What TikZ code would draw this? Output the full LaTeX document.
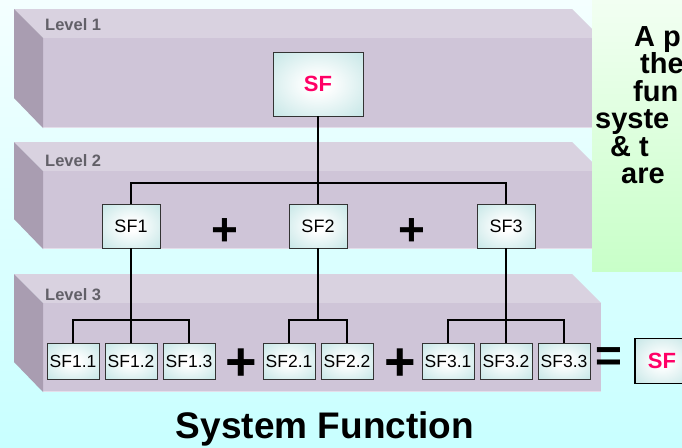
\documentclass[tikz,border=0pt]{standalone}
\usepackage{fontspec}
\setmainfont{Liberation Sans}

\definecolor{bgtop}{HTML}{F4FFFF}
\definecolor{bgbot}{HTML}{C8FFFF}
\definecolor{slabtop}{HTML}{D9D2E0}
\definecolor{slabfront}{HTML}{CFC5D8}
\definecolor{slabside}{HTML}{A99DB1}
\definecolor{slabedge}{HTML}{E4DEEA}
\definecolor{labelgray}{HTML}{626068}
\definecolor{boxteal}{HTML}{C5E6E6}
\definecolor{sfpink}{HTML}{FF0066}
\definecolor{notetop}{HTML}{F2FFF2}
\definecolor{notebot}{HTML}{C8FFC8}

% soft white glow in the middle of each function box
\pgfdeclareradialshading{boxglow}{\pgfpoint{0bp}{0bp}}{%
  color(0bp)=(white); color(6bp)=(white); color(36bp)=(boxteal); color(50bp)=(boxteal)}

% one level drawn as a flat 3-D slab: #1 = top of back edge, #2 = bottom of front face
\newcommand\levelslab[2]{%
  \fill[slabtop] (14,#1) -- (572,#1) -- (601,#1+29) -- (43,#1+29) -- cycle;
  \fill[slabfront] (43,#1+29) rectangle (601,#2);
  \fill[slabedge] (43,#2-1.5) rectangle (601,#2);
  \fill[slabside] (14,#1) -- (43,#1+29) -- (43,#2) -- (14,#2-30) -- cycle;
}

\tikzset{
  fnbox/.style={draw=black!80, line width=0.8pt, shade, shading=boxglow,
    inner sep=0pt, text=black},
  topbox/.style={fnbox, minimum width=90pt, minimum height=64pt,
    font=\bfseries\fontsize{22}{22}\selectfont, text=sfpink},
  midbox/.style={fnbox, minimum width=58pt, minimum height=44pt,
    font=\fontsize{18}{18}\selectfont},
  leafbox/.style={fnbox, minimum width=52pt, minimum height=36pt,
    font=\fontsize{17.5}{17.5}\selectfont},
  finalbox/.style={fnbox, draw=black, line width=1.6pt, minimum width=54pt,
    minimum height=45pt, font=\bfseries\fontsize{22}{22}\selectfont, text=sfpink},
  wire/.style={line width=2pt, black},
  plussign/.style={inner sep=0pt, font=\bfseries\fontsize{46}{46}\selectfont},
  bigplus/.style={inner sep=0pt, font=\bfseries\fontsize{54}{54}\selectfont},
  levellabel/.style={anchor=base west, inner sep=0pt, text=labelgray,
    font=\bfseries\fontsize{16.5}{16.5}\selectfont},
  notetext/.style={anchor=base west, inner sep=0pt,
    font=\bfseries\fontsize{29}{27.5}\selectfont},
}

\begin{document}
\begin{tikzpicture}[x=1pt, y=-1pt]
  \clip (0,0) rectangle (682,447);
  \shade[top color=bgtop, bottom color=bgbot] (0,0) rectangle (682,447);

  % the three levels
  \levelslab{274}{392}
  \levelslab{142}{249}
  \levelslab{9}{128}

  \node[levellabel] (lv1) at (45,30) {Level 1};
  \node[levellabel] (lv2) at (45,166) {Level 2};
  \node[levellabel] (lv3) at (45,300) {Level 3};

  % side note
  \shade[top color=notetop, bottom color=notebot] (592,0) rectangle (682,271);
  \node[notetext] (n1) at (634,46) {A p};
  \node[notetext] (n2) at (640,73.5) {the};
  \node[notetext] (n3) at (633,101) {fun};
  \node[notetext] (n4) at (595,128.5) {syste};
  \node[notetext] (n5) at (610,156) {\& t};
  \node[notetext] (n6) at (621,183.5) {are};

  % bus points of the tree
  \coordinate (bus0) at (318,183);
  \coordinate (bus1) at (131,320);
  \coordinate (bus2) at (318,320);
  \coordinate (bus3) at (506,320);

  % boxes
  \node[topbox] (sf) at (318,84) {SF};

  \node[midbox] (sf1) at (131,226) {SF1};
  \node[midbox] (sf2) at (318,226) {SF2};
  \node[midbox] (sf3) at (506,226) {SF3};

  \node[leafbox] (sf11) at (73,361) {SF1.1};
  \node[leafbox] (sf12) at (131,361) {SF1.2};
  \node[leafbox] (sf13) at (189,361) {SF1.3};
  \node[leafbox] (sf21) at (289,361) {SF2.1};
  \node[leafbox] (sf22) at (347,361) {SF2.2};
  \node[leafbox] (sf31) at (448,361) {SF3.1};
  \node[leafbox] (sf32) at (506,361) {SF3.2};
  \node[leafbox] (sf33) at (564,361) {SF3.3};

  % connectors
  \draw[wire] (sf.south) -- (sf2.north);
  \draw[wire] (sf1.north) |- (bus0) -| (sf3.north);
  \draw[wire] (sf1.south) -- (sf12.north);
  \draw[wire] (sf11.north) |- (bus1) -| (sf13.north);
  \draw[wire] (sf2.south) -- (bus2);
  \draw[wire] (sf21.north) |- (bus2) -| (sf22.north);
  \draw[wire] (sf3.south) -- (sf32.north);
  \draw[wire] (sf31.north) |- (bus3) -| (sf33.north);

  % operators
  \node[plussign] (pa) at (225,232) {+};
  \node[plussign] (pb) at (412,232) {+};
  \node[bigplus] (pc) at (241,365) {+};
  \node[bigplus] (pd) at (400,365) {+};
  \node[plussign] (eq) at (609,360) {=};

  \node[finalbox] (sfall) at (662,361) {SF};

  \node[anchor=base, inner sep=0pt, font=\bfseries\fontsize{37}{37}\selectfont]
    (title) at (325,438) {System Function};
\end{tikzpicture}
\end{document}
